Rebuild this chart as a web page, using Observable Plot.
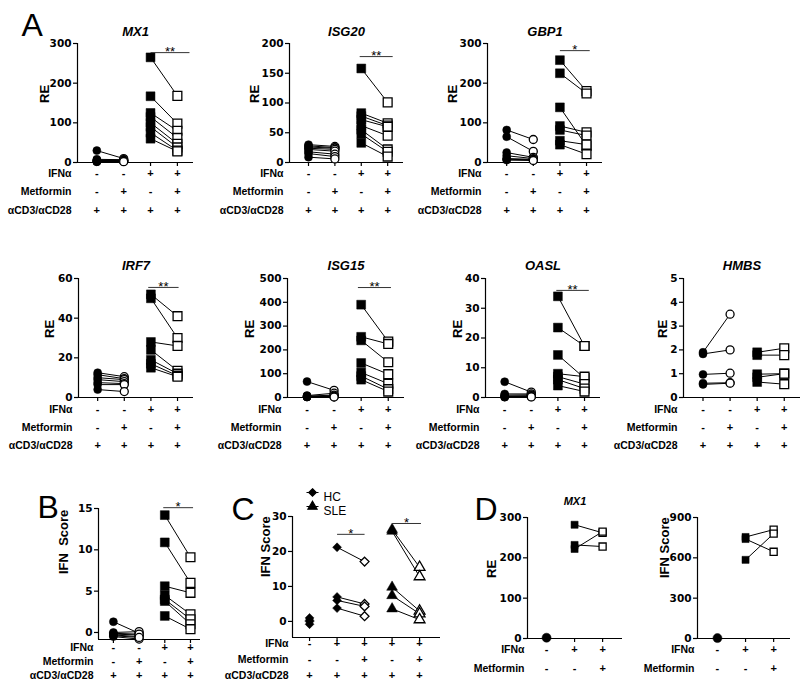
<!DOCTYPE html>
<html><head><meta charset="utf-8">
<script src="https://cdn.jsdelivr.net/npm/d3@7"></script>
<script src="https://cdn.jsdelivr.net/npm/@observablehq/plot@0.6"></script>
<style>
html,body{margin:0;padding:0;background:#fff;}
#fig{position:relative;width:800px;height:684px;overflow:hidden;background:#fff;}
#fig svg{position:absolute;left:0;top:0;}
</style></head><body><div id="fig"></div>
<script>
// ---------- DATA (paired values, same index = same donor) ----------
const mx1Ctrl   = [30, 8, 6, 5, 4, 3, 2, 2];
const mx1Met    = [10, 7, 6, 5, 4, 3, 3, 2];
const mx1Ifn    = [265, 167, 125, 115, 100, 90, 75, 60];
const mx1IfnMet = [168, 98, 80, 62, 47, 38, 30, 28];

const isg20Ctrl   = [30, 28, 26, 24, 22, 18, 15, 9];
const isg20Met    = [27, 25, 24, 22, 19, 14, 10, 6];
const isg20Ifn    = [158, 83, 78, 72, 62, 55, 48, 33];
const isg20IfnMet = [101, 66, 62, 60, 45, 22, 18, 10];

const gbp1Ctrl   = [82, 65, 25, 17, 10, 8, 6];
const gbp1Met    = [58, 28, 13, 10, 8, 7, 5];
const gbp1Ifn    = [258, 225, 139, 92, 82, 55, 45];
const gbp1IfnMet = [180, 174, 42, 76, 68, 45, 21];

const irf7Ctrl   = [12.5, 11.5, 10, 9, 7.5, 6.5, 4];
const irf7Met    = [10.5, 9.5, 9, 8, 7, 6.5, 3];
const irf7Ifn    = [52, 50, 28, 24, 19, 17, 15];
const irf7IfnMet = [41, 30, 26, 13.5, 12, 11, 10.5];

const isg15Ctrl   = [67, 8, 6, 4, 3, 2, 2];
const isg15Met    = [30, 18, 10, 7, 5, 3, 2];
const isg15Ifn    = [390, 255, 240, 145, 105, 90, 75];
const isg15IfnMet = [235, 225, 148, 98, 58, 35, 25];

const oaslCtrl   = [5.3, 1.2, 0.8, 0.5, 0.3, 0.2, 0.1];
const oaslMet    = [1.8, 1.2, 0.9, 0.6, 0.4, 0.3, 0.2];
const oaslIfn    = [34, 23.5, 14.3, 8, 7, 6, 4];
const oaslIfnMet = [17.3, 17.3, 6.5, 7, 4.5, 3, 2];

const hmbsCtrl   = [1.9, 1.83, 0.97, 0.6, 0.55];
const hmbsMet    = [3.5, 2.0, 1.02, 0.62, 0.6];
const hmbsIfn    = [1.9, 1.78, 0.98, 0.85, 0.65];
const hmbsIfnMet = [2.07, 1.78, 1.0, 1.0, 0.56];

const scoreCtrl   = [1.3, 0, -0.2, -0.3, -0.5, -0.1, -0.4];
const scoreMet    = [-0.1, 0.1, -0.3, -0.5, -0.8, -0.2, -0.6];
const scoreIfn    = [14.2, 10.9, 5.6, 4.5, 4.0, 3.8, 2.0];
const scoreIfnMet = [9.1, 6.0, 4.8, 2.2, 1.6, 1.0, 0.4];

const hcCtrl      = [1.0, 0.3, 0, -0.8];
const hcIfn       = [21.2, 7, 6, 3.8];
const hcIfnMet    = [17.1, 5, 4.3, 1.5];
const sleIfn      = [26.3, 25.8, 9.8, 7.4, 3.6];
const sleIfnMet   = [15.5, 12.8, 3.0, 2.2, 0.5];

const dMx1Ctrl    = [2];
const dMx1Ifn     = [282, 222, 232];
const dMx1IfnMet  = [262, 265, 228];
const dScoreCtrl  = [3];
const dScoreIfn   = [755, 585, 740];
const dScoreIfnMet= [810, 780, 645];

// ---------- LABELS / TICKS ----------
const rowLabelsA = ["IFNα", "Metformin", "αCD3/αCD28"];
const signsA = [["-","-","+","+"], ["-","+","-","+"], ["+","+","+","+"]];
const signsC = [["-","+","+","+","+"], ["-","-","+","-","+"], ["+","+","+","+","+"]];
const rowLabelsD = ["IFNα", "Metformin"];
const signsD = [["-","+","+"], ["-","-","+"]];
const legendLabels = ["HC", "SLE"];

const ticksMX1 = [0, 100, 200, 300];
const ticksISG20 = [0, 50, 100, 150, 200];
const ticksGBP1 = [0, 100, 200, 300];
const ticksIRF7 = [0, 20, 40, 60];
const ticksISG15 = [0, 100, 200, 300, 400, 500];
const ticksOASL = [0, 10, 20, 30, 40];
const ticksHMBS = [0, 1, 2, 3, 4, 5];
const ticksScore = [0, 5, 10, 15];
const ticksScoreC = [0, 10, 20, 30];
const ticksD1 = [0, 100, 200, 300];
const ticksD2 = [0, 300, 600, 900];

// ---------- DRAWING ----------
const TICKFONT = "'DejaVu Sans', sans-serif";
const FONT = "'Liberation Sans', Arial, sans-serif";
const fig = document.getElementById("fig");

function panel(o) {
  const [L, R, T, B] = o.box;
  const n = o.rows[0].length;
  const groups = d3.range(1, n + 1);
  const marks = [];
  marks.push(Plot.ruleX([o.x[0]], {stroke: "black", strokeWidth: 1.2}));
  marks.push(Plot.ruleY([o.y[0]], {stroke: "black", strokeWidth: 1.2}));
  marks.push(Plot.axisY({ticks: o.ticks, tickSize: 4, tickPadding: 2, tickFormat: d => String(d), label: null,
    fontFamily: TICKFONT, fontWeight: "bold", fontSize: 10.5, strokeWidth: 1.2}));
  marks.push(Plot.axisX({ticks: groups, tickSize: 4, tickFormat: () => "", label: null, strokeWidth: 1.2}));
  for (const [gA, gB, A, Bv] of o.pairs) {
    marks.push(Plot.link(d3.range(A.length), {x1: () => gA, x2: () => gB, y1: i => A[i], y2: i => Bv[i], stroke: "black", strokeWidth: 1}));
  }
  for (const s of o.points) {
    marks.push(Plot.dot(s.v, {x: () => s.g, y: d => d, symbol: s.sym, r: s.r,
      fill: s.open ? "white" : "black", stroke: "black", strokeWidth: s.open ? 1.3 : 0.5}));
  }
  o.rows.forEach((signs, r) => {
    marks.push(Plot.text(groups, {x: d => d, text: d => signs[d - 1], frameAnchor: "bottom", dy: o.rowDy[r], fontSize: 11, fontWeight: "bold"}));
    marks.push(Plot.text([o.rowLabels[r]], {frameAnchor: "bottom-left", dx: -o.labelGap, dy: o.rowDy[r], textAnchor: "end", fontSize: 10.5, fontWeight: "bold"}));
  });
  if (o.ylab) marks.push(Plot.text([o.ylab], {frameAnchor: "left", dx: -o.ylabOff, rotate: -90, fontSize: 13, fontWeight: "bold"}));
  if (o.title) marks.push(Plot.text([o.title], {frameAnchor: "top", dy: o.titleDy, fontStyle: "italic", fontWeight: "bold", fontSize: o.titleSize || 13}));
  if (o.letter) marks.push(Plot.text([o.letter[0]], {frameAnchor: "top-left", dx: o.letter[1] - L, dy: o.letter[2] - T, fontSize: 32, fontWeight: "normal", textAnchor: "start"}));
  for (const [x1, x2, y, lab] of (o.sig || [])) {
    marks.push(Plot.link([0], {x1: () => x1, x2: () => x2, y1: () => y, y2: () => y, stroke: "#333", strokeWidth: 1}));
    marks.push(Plot.text([lab], {x: () => (x1 + x2) / 2, y: () => y, dy: -1, fontSize: 13, fontWeight: "normal"}));
  }
  if (o.extra) marks.push(...o.extra(L, T));
  const svg = Plot.plot({
    width: 800, height: 684,
    marginLeft: L, marginRight: 800 - R, marginTop: T, marginBottom: 684 - B,
    x: {type: "linear", domain: o.x},
    y: {type: "linear", domain: o.y},
    style: {background: "transparent", overflow: "visible", fontFamily: FONT, fontSize: "11px", color: "black"},
    marks
  });
  fig.appendChild(svg);
}

function panelA(title, box, y, ticks, d, ylabOff, sig, row, letter) {
  const [c, m, i, im] = d;
  panel({
    box, y, ticks, x: [0.28, 4.6],
    rows: signsA, rowLabels: rowLabelsA, rowDy: row === 1 ? [14, 32, 51] : [15, 33, 51], labelGap: 6,
    pairs: [[1, 2, c, m], [3, 4, i, im]],
    points: [
      {g: 1, v: c, sym: "circle", r: 4, open: false},
      {g: 2, v: m, sym: "circle", r: 4, open: true},
      {g: 3, v: i, sym: "square", r: 5, open: false},
      {g: 4, v: im, sym: "square", r: 5, open: true}
    ],
    ylab: "RE", ylabOff, title, titleDy: row === 1 ? -17 : -18, sig, letter
  });
}

panelA("MX1",   [77, 193, 43, 162],  [0, 300], ticksMX1,   [mx1Ctrl, mx1Met, mx1Ifn, mx1IfnMet], 33, [[3, 4.45, 277, "**"]], 1, ["A", 21, 13]);
panelA("ISG20", [289, 403, 43, 162], [0, 200], ticksISG20, [isg20Ctrl, isg20Met, isg20Ifn, isg20IfnMet], 35, [[2.94, 4.19, 178, "**"]], 1);
panelA("GBP1",  [487, 602, 43, 162], [0, 300], ticksGBP1,  [gbp1Ctrl, gbp1Met, gbp1Ifn, gbp1IfnMet], 35, [[3, 4.12, 282, "*"]], 1);
panelA("IRF7",  [78, 193, 278, 397], [0, 60], ticksIRF7,   [irf7Ctrl, irf7Met, irf7Ifn, irf7IfnMet], 29, [[2.9, 4.04, 55.5, "**"]], 2);
panelA("ISG15", [287, 404, 278, 397], [0, 500], ticksISG15, [isg15Ctrl, isg15Met, isg15Ifn, isg15IfnMet], 38, [[2.88, 4.1, 462, "**"]], 2);
panelA("OASL",  [485, 600, 278, 397], [0, 40], ticksOASL,  [oaslCtrl, oaslMet, oaslIfn, oaslIfnMet], 28, [[2.94, 4.16, 36, "**"]], 2);
panelA("HMBS",  [683, 800, 278, 397], [0, 5], ticksHMBS,   [hmbsCtrl, hmbsMet, hmbsIfn, hmbsIfnMet], 21, [], 2);

// B
panel({
  box: [98, 200, 508, 639], y: [-0.85, 15], ticks: ticksScore, x: [0.42, 4.39],
  rows: signsA, rowLabels: rowLabelsA, rowDy: [11, 25, 39], labelGap: 5,
  pairs: [[1, 2, scoreCtrl, scoreMet], [3, 4, scoreIfn, scoreIfnMet]],
  points: [
    {g: 1, v: scoreCtrl, sym: "circle", r: 4, open: false},
    {g: 2, v: scoreMet, sym: "circle", r: 4, open: true},
    {g: 3, v: scoreIfn, sym: "square", r: 5, open: false},
    {g: 4, v: scoreIfnMet, sym: "square", r: 5, open: true}
  ],
  ylab: "IFN  Score", ylabOff: 35, sig: [[2.94, 4.1, 15.1, "*"]], letter: ["B", 37, 495]
});

// C
const legDiamond = {draw(ctx, size) { d3.symbolDiamond2.draw(ctx, size); ctx.moveTo(-6, 0); ctx.lineTo(6, 0); }};
const legTriangle = {draw(ctx, size) { d3.symbolTriangle.draw(ctx, size); ctx.moveTo(-6, 0); ctx.lineTo(6, 0); }};
panel({
  box: [292, 440, 516, 637], y: [-4.6, 30], ticks: ticksScoreC, x: [0.38, 5.76],
  rows: signsC, rowLabels: rowLabelsA, rowDy: [9, 25, 41], labelGap: 4,
  pairs: [[2, 3, hcIfn, hcIfnMet], [4, 5, sleIfn, sleIfnMet]],
  points: [
    {g: 1, v: hcCtrl, sym: "diamond2", r: 4, open: false},
    {g: 2, v: hcIfn, sym: "diamond2", r: 4, open: false},
    {g: 3, v: hcIfnMet, sym: "diamond2", r: 4, open: true},
    {g: 4, v: sleIfn, sym: "triangle", r: 4, open: false},
    {g: 5, v: sleIfnMet, sym: "triangle", r: 4, open: true}
  ],
  ylab: "IFN Score", ylabOff: 27, sig: [[2, 3, 24.9, "*"], [4, 5.05, 28, "*"]], letter: ["C", 231, 497],
  extra: (L, T) => [
    Plot.dot([legendLabels[0]], {frameAnchor: "top-left", dx: 312 - L, dy: 492 - T, symbol: legDiamond, r: 3.4, fill: "black", stroke: "black", strokeWidth: 1.2}),
    Plot.dot([legendLabels[1]], {frameAnchor: "top-left", dx: 312 - L, dy: 506 - T, symbol: legTriangle, r: 3.4, fill: "black", stroke: "black", strokeWidth: 1.2}),
    Plot.text([legendLabels[0]], {frameAnchor: "top-left", dx: 323 - L, dy: 492 - T, fontSize: 12, fontWeight: "normal", textAnchor: "start"}),
    Plot.text([legendLabels[1]], {frameAnchor: "top-left", dx: 323 - L, dy: 506 - T, fontSize: 12, fontWeight: "normal", textAnchor: "start"})
  ]
});

// D
panel({
  box: [527, 622, 517, 638], y: [0, 300], ticks: ticksD1, x: [0.32, 3.71],
  rows: signsD, rowLabels: rowLabelsD, rowDy: [14, 33], labelGap: 3,
  pairs: [[2, 3, dMx1Ifn, dMx1IfnMet]],
  points: [
    {g: 1, v: dMx1Ctrl, sym: "circle", r: 4.5, open: false},
    {g: 2, v: dMx1Ifn, sym: "square", r: 4, open: false},
    {g: 3, v: dMx1IfnMet, sym: "square", r: 4, open: true}
  ],
  ylab: "RE", ylabOff: 36, title: "MX1", titleDy: -20, titleSize: 11, letter: ["D", 474, 497]
});
panel({
  box: [697, 790, 517, 638], y: [0, 900], ticks: ticksD2, x: [0.29, 3.6],
  rows: signsD, rowLabels: rowLabelsD, rowDy: [14, 33], labelGap: 3,
  pairs: [[2, 3, dScoreIfn, dScoreIfnMet]],
  points: [
    {g: 1, v: dScoreCtrl, sym: "circle", r: 4.5, open: false},
    {g: 2, v: dScoreIfn, sym: "square", r: 4, open: false},
    {g: 3, v: dScoreIfnMet, sym: "square", r: 4, open: true}
  ],
  ylab: "IFN Score", ylabOff: 33
});
</script></body></html>
